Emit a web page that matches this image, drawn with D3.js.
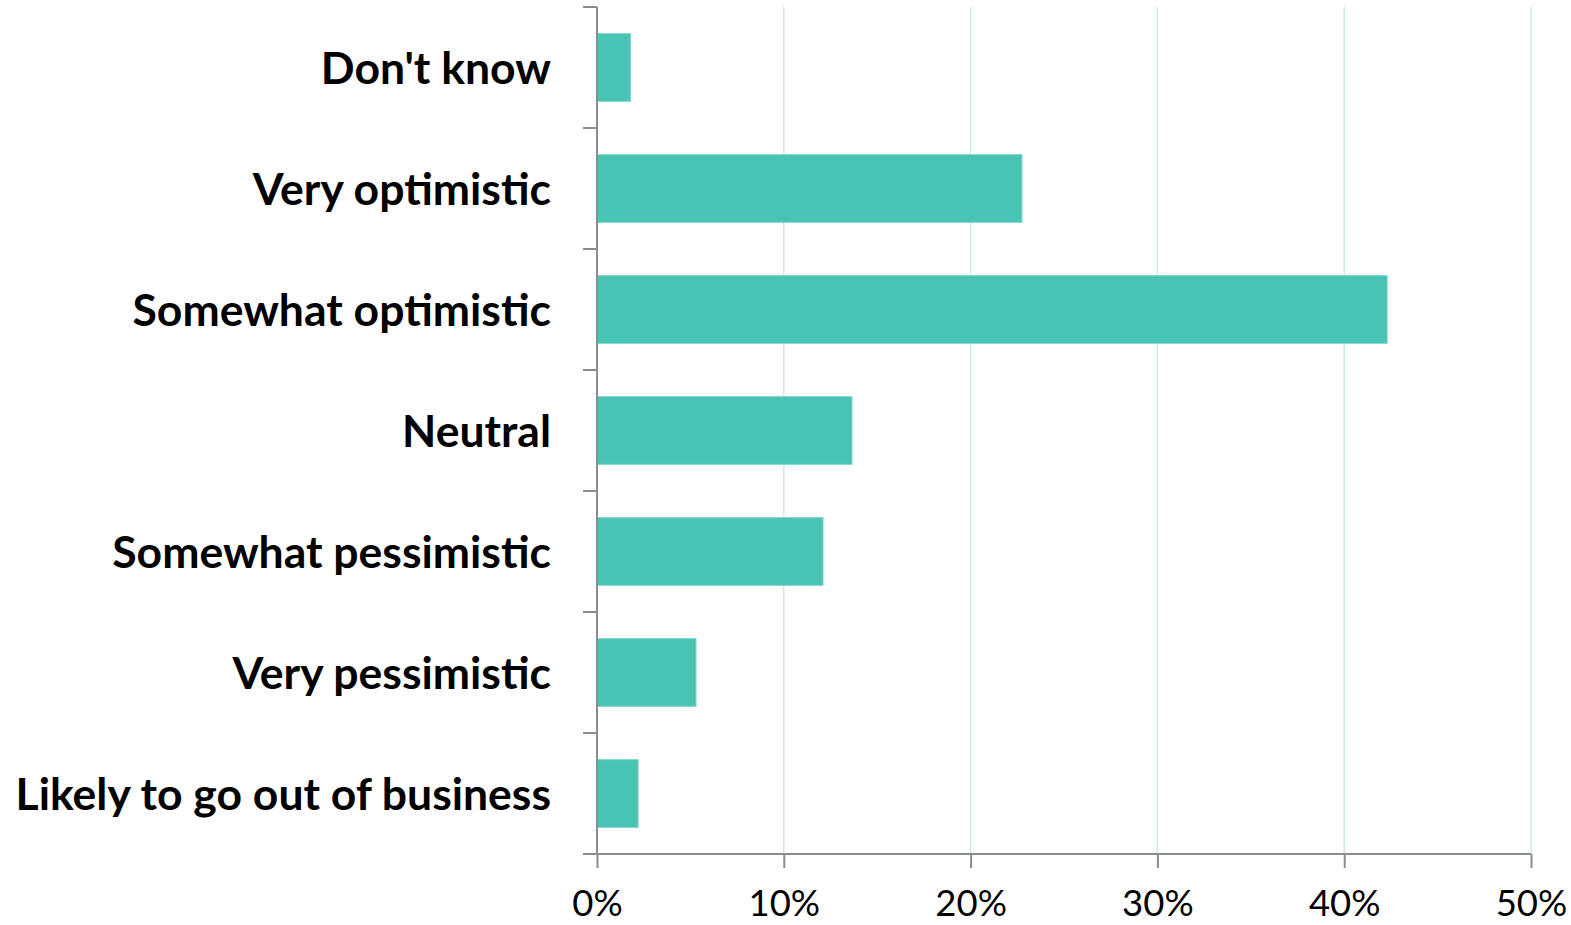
<!DOCTYPE html>
<html>
<head>
<meta charset="utf-8">
<script src="https://cdn.jsdelivr.net/npm/d3@7"></script>
<style>
  html, body { margin: 0; padding: 0; background: #ffffff; }
  svg { display: block; }
</style>
</head>
<body>
<svg id="chart" width="1571" height="925"></svg>
<script>
// Survey responses: outlook for the business
const categories = [
  "Don't know",
  "Very optimistic",
  "Somewhat optimistic",
  "Neutral",
  "Somewhat pessimistic",
  "Very pessimistic",
  "Likely to go out of business"
];
const shares = [1.8, 22.75, 42.3, 13.65, 12.1, 5.3, 2.2];
const tickValues = [0, 10, 20, 30, 40, 50];

const svg = d3.select("#chart");
const margin = { top: 7, right: 40, bottom: 71, left: 597 };
const width = 1571, height = 925;

const x = d3.scaleLinear()
  .domain([0, 50])
  .range([margin.left, 1531]);

const y = d3.scaleBand()
  .domain(categories)
  .range([margin.top, height - margin.bottom])
  .paddingInner(0.44)
  .paddingOuter(0.22);

// vertical gridlines
svg.append("g")
  .selectAll("line")
  .data(tickValues.filter(d => d > 0))
  .join("line")
  .attr("x1", d => x(d)).attr("x2", d => x(d))
  .attr("y1", margin.top).attr("y2", height - margin.bottom)
  .attr("stroke", "#c8ede8")
  .attr("stroke-width", 1.5);

// bars
svg.append("g")
  .selectAll("rect")
  .data(categories.map((c, i) => ({ c, v: shares[i] })))
  .join("rect")
  .attr("x", x(0))
  .attr("y", d => y(d.c))
  .attr("width", d => x(d.v) - x(0))
  .attr("height", y.bandwidth())
  .attr("fill", "#48c3b4")
  .attr("stroke", "#7fd6cb")
  .attr("stroke-width", 1);

// category axis: boundary ticks between bands
const yAxisG = svg.append("g").attr("class", "y-axis");
const bounds = d3.range(categories.length + 1).map(i => margin.top + i * y.step());
yAxisG.append("line")
  .attr("x1", x(0)).attr("x2", x(0))
  .attr("y1", margin.top).attr("y2", height - margin.bottom)
  .attr("stroke", "#8c8c8c").attr("stroke-width", 2);
yAxisG.selectAll("line.tick")
  .data(bounds)
  .join("line")
  .attr("class", "tick")
  .attr("x1", x(0) - 14).attr("x2", x(0))
  .attr("y1", d => d).attr("y2", d => d)
  .attr("stroke", "#8c8c8c").attr("stroke-width", 2);
yAxisG.selectAll("text")
  .data(categories)
  .join("text")
  .attr("x", x(0) - 46)
  .attr("y", d => y(d) + y.bandwidth() / 2)
  .attr("dy", "0.36em")
  .attr("text-anchor", "end")
  .attr("font-family", "Lato, 'Open Sans', sans-serif")
  .attr("font-weight", "bold")
  .attr("font-size", 44.5)
  .attr("fill", "#000")
  .text(d => d);

// value axis
const xAxis = d3.axisBottom(x)
  .tickValues(tickValues)
  .tickFormat(d => d + "%")
  .tickSize(14)
  .tickPadding(22)
  .tickSizeOuter(0);
const xAxisG = svg.append("g")
  .attr("transform", `translate(0,${height - margin.bottom})`)
  .call(xAxis);
xAxisG.select(".domain").remove();
xAxisG.append("line")
  .attr("x1", x(0) - 14).attr("x2", x(50))
  .attr("stroke", "#8c8c8c").attr("stroke-width", 2);
xAxisG.selectAll(".tick line").attr("stroke", "#8c8c8c").attr("stroke-width", 2);
xAxisG.selectAll(".tick text")
  .attr("font-family", "Lato, 'Open Sans', sans-serif")
  .attr("font-size", 36.5)
  .attr("fill", "#000");
</script>
</body>
</html>
